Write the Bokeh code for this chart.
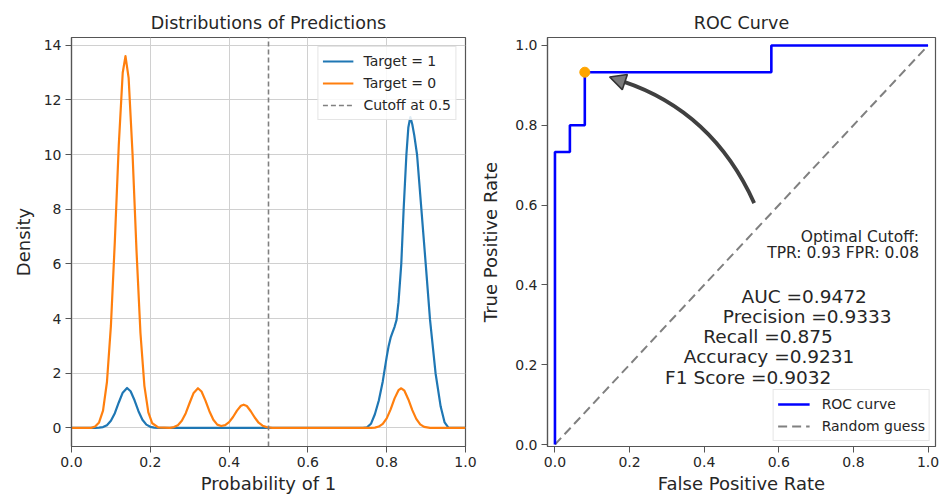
from bokeh.plotting import figure
from bokeh.layouts import row
from bokeh.models import (Range1d, FixedTicker, NumeralTickFormatter, Legend,
                          LegendItem, Arrow, NormalHead, Label)
from bokeh.embed import file_html
from bokeh.resources import INLINE

FONT = "DejaVu Sans"

# ---------------- data: density curves ----------------
BLUE_X = [0.00, 0.06, 0.07, 0.08, 0.09, 0.10, 0.11, 0.12, 0.13, 0.141, 0.15, 0.16, 0.17, 0.18,
          0.19, 0.20, 0.21, 0.22, 0.50, 0.74, 0.75, 0.76, 0.77, 0.78, 0.79, 0.80, 0.805, 0.81,
          0.815, 0.82, 0.825, 0.83, 0.837, 0.843, 0.85, 0.855, 0.86, 0.865, 0.87, 0.877, 0.888,
          0.899, 0.91, 0.924, 0.937, 0.947, 0.957, 1.00]
BLUE_Y = [0, 0.0, 0.01, 0.03, 0.10, 0.26, 0.54, 0.93, 1.29, 1.46, 1.34, 1.01, 0.61, 0.30,
          0.12, 0.04, 0.01, 0.0, 0.0, 0.0, 0.02, 0.15, 0.5, 1.0, 1.7, 2.6, 3.0, 3.3,
          3.5, 3.7, 3.95, 4.6, 6.0, 8.0, 10.0, 11.0, 11.37, 11.1, 10.7, 10.0, 8.0,
          6.0, 3.95, 2.0, 0.78, 0.2, 0.0, 0.0]

ORANGE_X = [0.00, 0.05, 0.06, 0.07, 0.08, 0.09, 0.10, 0.11, 0.12, 0.13, 0.137, 0.145, 0.155,
            0.165, 0.175, 0.185, 0.195, 0.205, 0.22, 0.25, 0.26, 0.27, 0.28, 0.29, 0.30, 0.31,
            0.321, 0.33, 0.34, 0.35, 0.36, 0.37, 0.38, 0.39, 0.40, 0.41, 0.42, 0.43, 0.437,
            0.445, 0.455, 0.465, 0.475, 0.485, 0.495, 0.51, 0.76, 0.77, 0.78, 0.79, 0.80, 0.81,
            0.82, 0.83, 0.837, 0.845, 0.855, 0.865, 0.875, 0.885, 0.895, 0.91, 1.00]
ORANGE_Y = [0, 0, 0.05, 0.2, 0.63, 1.68, 3.73, 6.83, 10.35, 12.99, 13.6, 12.8, 10.0,
            6.48, 3.47, 1.54, 0.57, 0.17, 0.02, 0.0, 0.03, 0.10, 0.26, 0.54, 0.92, 1.28,
            1.45, 1.33, 1.0, 0.61, 0.30, 0.12, 0.07, 0.10, 0.21, 0.40, 0.63, 0.81, 0.85,
            0.80, 0.61, 0.38, 0.19, 0.08, 0.03, 0.0, 0.0, 0.01, 0.05, 0.15, 0.35, 0.68,
            1.08, 1.38, 1.45, 1.36, 1.04, 0.65, 0.33, 0.13, 0.04, 0.0, 0.0]

CUTOFF = 0.5
DENSITY_RANGE = (-0.68, 14.28)
DENSITY_TICKS = [0, 2, 4, 6, 8, 10, 12, 14]
PROB_TICKS = [0.0, 0.2, 0.4, 0.6, 0.8, 1.0]

# ---------------- data: ROC curve ----------------
FPR = [0.0, 0.0, 0.04, 0.04, 0.08, 0.08, 0.58, 0.58, 1.0]
TPR = [0.0, 0.733, 0.733, 0.8, 0.8, 0.933, 0.933, 1.0, 1.0]
DIAG = [0.0, 1.0]
OPT_FPR = [0.08]
OPT_TPR = [0.933]
RATE_TICKS = [0.0, 0.2, 0.4, 0.6, 0.8, 1.0]

CUTOFF_LINES = ["Optimal Cutoff:", "TPR: 0.93 FPR: 0.08"]
METRIC_LINES = ["AUC =0.9472", "Precision =0.9333", "Recall =0.875",
                "Accuracy =0.9231", "F1 Score =0.9032"]

# annotation placement (data coords of the ROC panel)
METRIC_POS = [(0.668, 0.37), (0.676, 0.32), (0.571, 0.27), (0.574, 0.22), (0.518, 0.168)]
CUTOFF_POS = [(0.976, 0.52), (0.976, 0.48)]
ARROW_START = (0.534, 0.605)
ARROW_CTRL = (0.423, 0.835)
ARROW_END = (0.1816, 0.910)
ARROW_TIP = (0.1466, 0.921)

AX_COLOR = "#555555"
TXT = "#262626"


def style(p):
    p.title.text_font = FONT
    p.title.text_font_size = "17.5px"
    p.title.text_font_style = "normal"
    p.title.text_color = TXT
    p.title.align = "center"
    p.outline_line_color = AX_COLOR
    p.outline_line_width = 1.2
    p.background_fill_color = "white"
    p.border_fill_color = "white"
    for ax in p.axis:
        ax.axis_line_color = AX_COLOR
        ax.axis_line_width = 1.2
        ax.major_tick_line_color = AX_COLOR
        ax.major_tick_out = 6
        ax.major_tick_in = 0
        ax.minor_tick_line_color = None
        ax.major_label_text_font = FONT
        ax.major_label_text_font_size = "14px"
        ax.major_label_text_color = TXT
        ax.major_label_standoff = 4
        ax.axis_label_text_font = FONT
        ax.axis_label_text_font_size = "18px"
        ax.axis_label_text_font_style = "normal"
        ax.axis_label_text_color = TXT


H = 496

# ---------------- left: distributions ----------------
p1 = figure(width=477, height=H, x_range=Range1d(0, 1), y_range=Range1d(*DENSITY_RANGE),
            output_backend="svg", toolbar_location=None,
            min_border_left=71, min_border_right=12, min_border_top=37, min_border_bottom=50,
            title="Distributions of Predictions")
style(p1)
p1.xaxis.ticker = FixedTicker(ticks=PROB_TICKS)
p1.xaxis.formatter = NumeralTickFormatter(format="0.0")
p1.yaxis.ticker = FixedTicker(ticks=DENSITY_TICKS)
p1.xaxis.axis_label = "Probability of 1"
p1.yaxis.axis_label = "Density"
p1.xaxis.axis_label_standoff = 3
p1.yaxis.axis_label_standoff = 7
p1.grid.grid_line_color = "#d0d0d0"
p1.grid.grid_line_width = 1

r_blue = p1.line(BLUE_X, BLUE_Y, line_color="#1f77b4", line_width=2.2, line_join="round")
r_orange = p1.line(ORANGE_X, ORANGE_Y, line_color="#ff7f0e", line_width=2.2, line_join="round")
r_cut = p1.line(x=[CUTOFF, CUTOFF], y=list(DENSITY_RANGE), line_color="#808080",
                line_width=1.6, line_dash="5 3")

leg1 = Legend(items=[LegendItem(label="Target = 1", renderers=[r_blue]),
                     LegendItem(label="Target = 0", renderers=[r_orange]),
                     LegendItem(label="Cutoff at 0.5", renderers=[r_cut])],
              location="top_right")
p1.add_layout(leg1)

# ---------------- right: ROC ----------------
p2 = figure(width=466, height=H, x_range=Range1d(-0.02, 1.02), y_range=Range1d(-0.005, 1.02),
            output_backend="svg", toolbar_location=None,
            min_border_left=66, min_border_right=8, min_border_top=37, min_border_bottom=50,
            title="ROC Curve")
style(p2)
p2.grid.visible = False
p2.xaxis.ticker = FixedTicker(ticks=RATE_TICKS)
p2.yaxis.ticker = FixedTicker(ticks=RATE_TICKS)
p2.xaxis.formatter = NumeralTickFormatter(format="0.0")
p2.yaxis.formatter = NumeralTickFormatter(format="0.0")
p2.xaxis.axis_label = "False Positive Rate"
p2.yaxis.axis_label = "True Positive Rate"
p2.xaxis.axis_label_standoff = 3
p2.yaxis.axis_label_standoff = 11

r_diag = p2.line(DIAG, DIAG, line_color="#808080", line_width=2, line_dash="9 5")
r_roc = p2.line(FPR, TPR, line_color="#0000ff", line_width=2.6)
p2.scatter(OPT_FPR, OPT_TPR, size=10, color="#ffa500")

p2.quadratic(x0=[ARROW_START[0]], y0=[ARROW_START[1]], x1=[ARROW_END[0]], y1=[ARROW_END[1]],
             cx=[ARROW_CTRL[0]], cy=[ARROW_CTRL[1]], line_color="#404040", line_width=3.8)
p2.add_layout(Arrow(end=NormalHead(size=16, fill_color="#7a7a7a", line_color="#333333",
                                   line_width=1.6),
                    x_start=ARROW_END[0], y_start=ARROW_END[1],
                    x_end=ARROW_TIP[0], y_end=ARROW_TIP[1], line_alpha=0))

for txt, (x, y) in zip(CUTOFF_LINES, CUTOFF_POS):
    p2.add_layout(Label(x=x, y=y, text=txt, text_font=FONT, text_font_size="15.5px",
                        text_align="right", text_baseline="middle", text_color=TXT))
for txt, (x, y) in zip(METRIC_LINES, METRIC_POS):
    p2.add_layout(Label(x=x, y=y, text=txt, text_font=FONT, text_font_size="18.5px",
                        text_align="center", text_baseline="middle", text_color=TXT))

leg2 = Legend(items=[LegendItem(label="ROC curve", renderers=[r_roc]),
                     LegendItem(label="Random guess", renderers=[r_diag])],
              location="bottom_right")
p2.add_layout(leg2)

for leg, gw, st, mg in [(leg1, 31, 10, 9), (leg2, 32, 12, 5)]:
    leg.label_text_font = FONT
    leg.label_text_font_size = "14px"
    leg.label_text_color = TXT
    leg.glyph_width = gw
    leg.glyph_height = 20
    leg.label_height = 20
    leg.label_standoff = st
    leg.padding = 4
    leg.spacing = 2
    leg.margin = mg
    leg.border_line_color = "#cccccc"
    leg.border_line_width = 1
    leg.background_fill_alpha = 0.85

layout = row(p1, p2)
open("out.html", "w").write(file_html(layout, INLINE))
